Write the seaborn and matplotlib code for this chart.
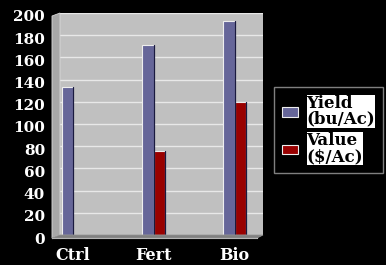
import matplotlib
matplotlib.use("Agg")
import matplotlib.pyplot as plt
from matplotlib.patches import Polygon
import numpy as np
import pandas as pd
import seaborn as sns

# data
groups = ["Ctrl", "Fert", "Bio"]
yield_bu = [133, 171, 193]
value_usd = [np.nan, 76, 120]
series_names = ["Yield\n(bu/Ac)", "Value\n($/Ac)"]
series_colors = ["#666699", "#990000"]

df = pd.DataFrame({
    "group": groups * 2,
    "amount": yield_bu + value_usd,
    "series": [series_names[0]] * 3 + [series_names[1]] * 3,
})

sns.set_style("white")
plt.rcParams["font.family"] = ["DejaVu Serif"]
plt.rcParams["font.weight"] = "bold"

W, H = 386, 265
fig = plt.figure(figsize=(W / 100, H / 100), dpi=100, facecolor="black")

def fx(px):
    return px / W

def fy(py):
    return (H - py) / H

# back wall of the pseudo-3D chart
ax = fig.add_axes([fx(60), fy(235), fx(263) - fx(60), fy(13) - fy(235)])
ax.set_facecolor("#c0c0c0")

sns.barplot(data=df, x="group", y="amount", hue="series", order=groups,
            hue_order=series_names, palette=series_colors, width=0.28,
            edgecolor="#eeeeee", linewidth=0.8, saturation=1, ax=ax, zorder=3)

# dark right-hand side of each bar
for bar in ax.patches:
    h = bar.get_height()
    if np.isfinite(h) and h > 0:
        x1 = bar.get_x() + bar.get_width()
        ax.plot([x1, x1], [0, h], color="#1a1a40", linewidth=0.9, zorder=4)

ax.set_ylim(0, 200)
ax.set_xlim(-0.16, 2.35)
ax.set_yticks(np.arange(0, 201, 20))
ax.yaxis.grid(True, color="#e8e8e8", linewidth=1)
ax.set_axisbelow(True)
ax.tick_params(axis="y", left=False, labelleft=False)
ax.tick_params(axis="x", bottom=False, colors="white", labelsize=11.5, pad=5)
for lab in ax.get_xticklabels():
    lab.set_fontweight("bold")
ax.set_xlabel("")
ax.set_ylabel("")
for s in ax.spines.values():
    s.set_visible(False)

# front frame carrying the y ticks
fr = fig.add_axes([fx(52), fy(238), fx(257) - fx(52), fy(16) - fy(238)])
fr.patch.set_alpha(0)
fr.set_ylim(0, 200)
fr.set_xlim(0, 5)
fr.set_yticks(np.arange(0, 201, 20))
fr.set_xticks(np.arange(0, 6))
fr.set_xticklabels([])
fr.tick_params(axis="y", colors="white", labelsize=11, length=3, width=1, pad=2)
fr.tick_params(axis="x", colors="#b0b0b0", length=3, width=1, direction="out")
for lab in fr.get_yticklabels():
    lab.set_fontweight("bold")
for name, s in fr.spines.items():
    s.set_visible(name in ("left", "bottom"))
    s.set_color("#d0d0d0")

# side wall and floor
side = [(52, 238), (60, 235), (60, 13), (52, 16)]
floor = [(52, 238), (60, 235), (263, 235), (257, 238)]
fig.patches.append(Polygon([(fx(x), fy(y)) for x, y in side], closed=True,
                           transform=fig.transFigure, facecolor="#a8a8a8",
                           edgecolor="#d8d8d8", linewidth=0.6))
fig.patches.append(Polygon([(fx(x), fy(y)) for x, y in floor], closed=True,
                           transform=fig.transFigure, facecolor="#808080",
                           edgecolor="#909090", linewidth=0.6))

# legend on the right
handles, labels = ax.get_legend_handles_labels()
ax.legend_.remove()
leg = fig.legend(handles, labels, loc="upper left",
                 bbox_to_anchor=(fx(274), fy(87)), frameon=True,
                 prop={"family": "DejaVu Serif", "weight": "bold", "size": 12},
                 handlelength=1.0, handleheight=0.5, handletextpad=0.5,
                 labelspacing=0.25, borderpad=0.45, borderaxespad=0)
leg.get_frame().set_facecolor("black")
leg.get_frame().set_edgecolor("#a0a0a0")
leg.get_frame().set_boxstyle("square", pad=0)
for t in leg.get_texts():
    t.set_color("black")
    t.set_linespacing(0.95)
    t.set_bbox(dict(facecolor="white", edgecolor="none", pad=0))

fig.savefig("out.png", dpi=100, facecolor="black")
